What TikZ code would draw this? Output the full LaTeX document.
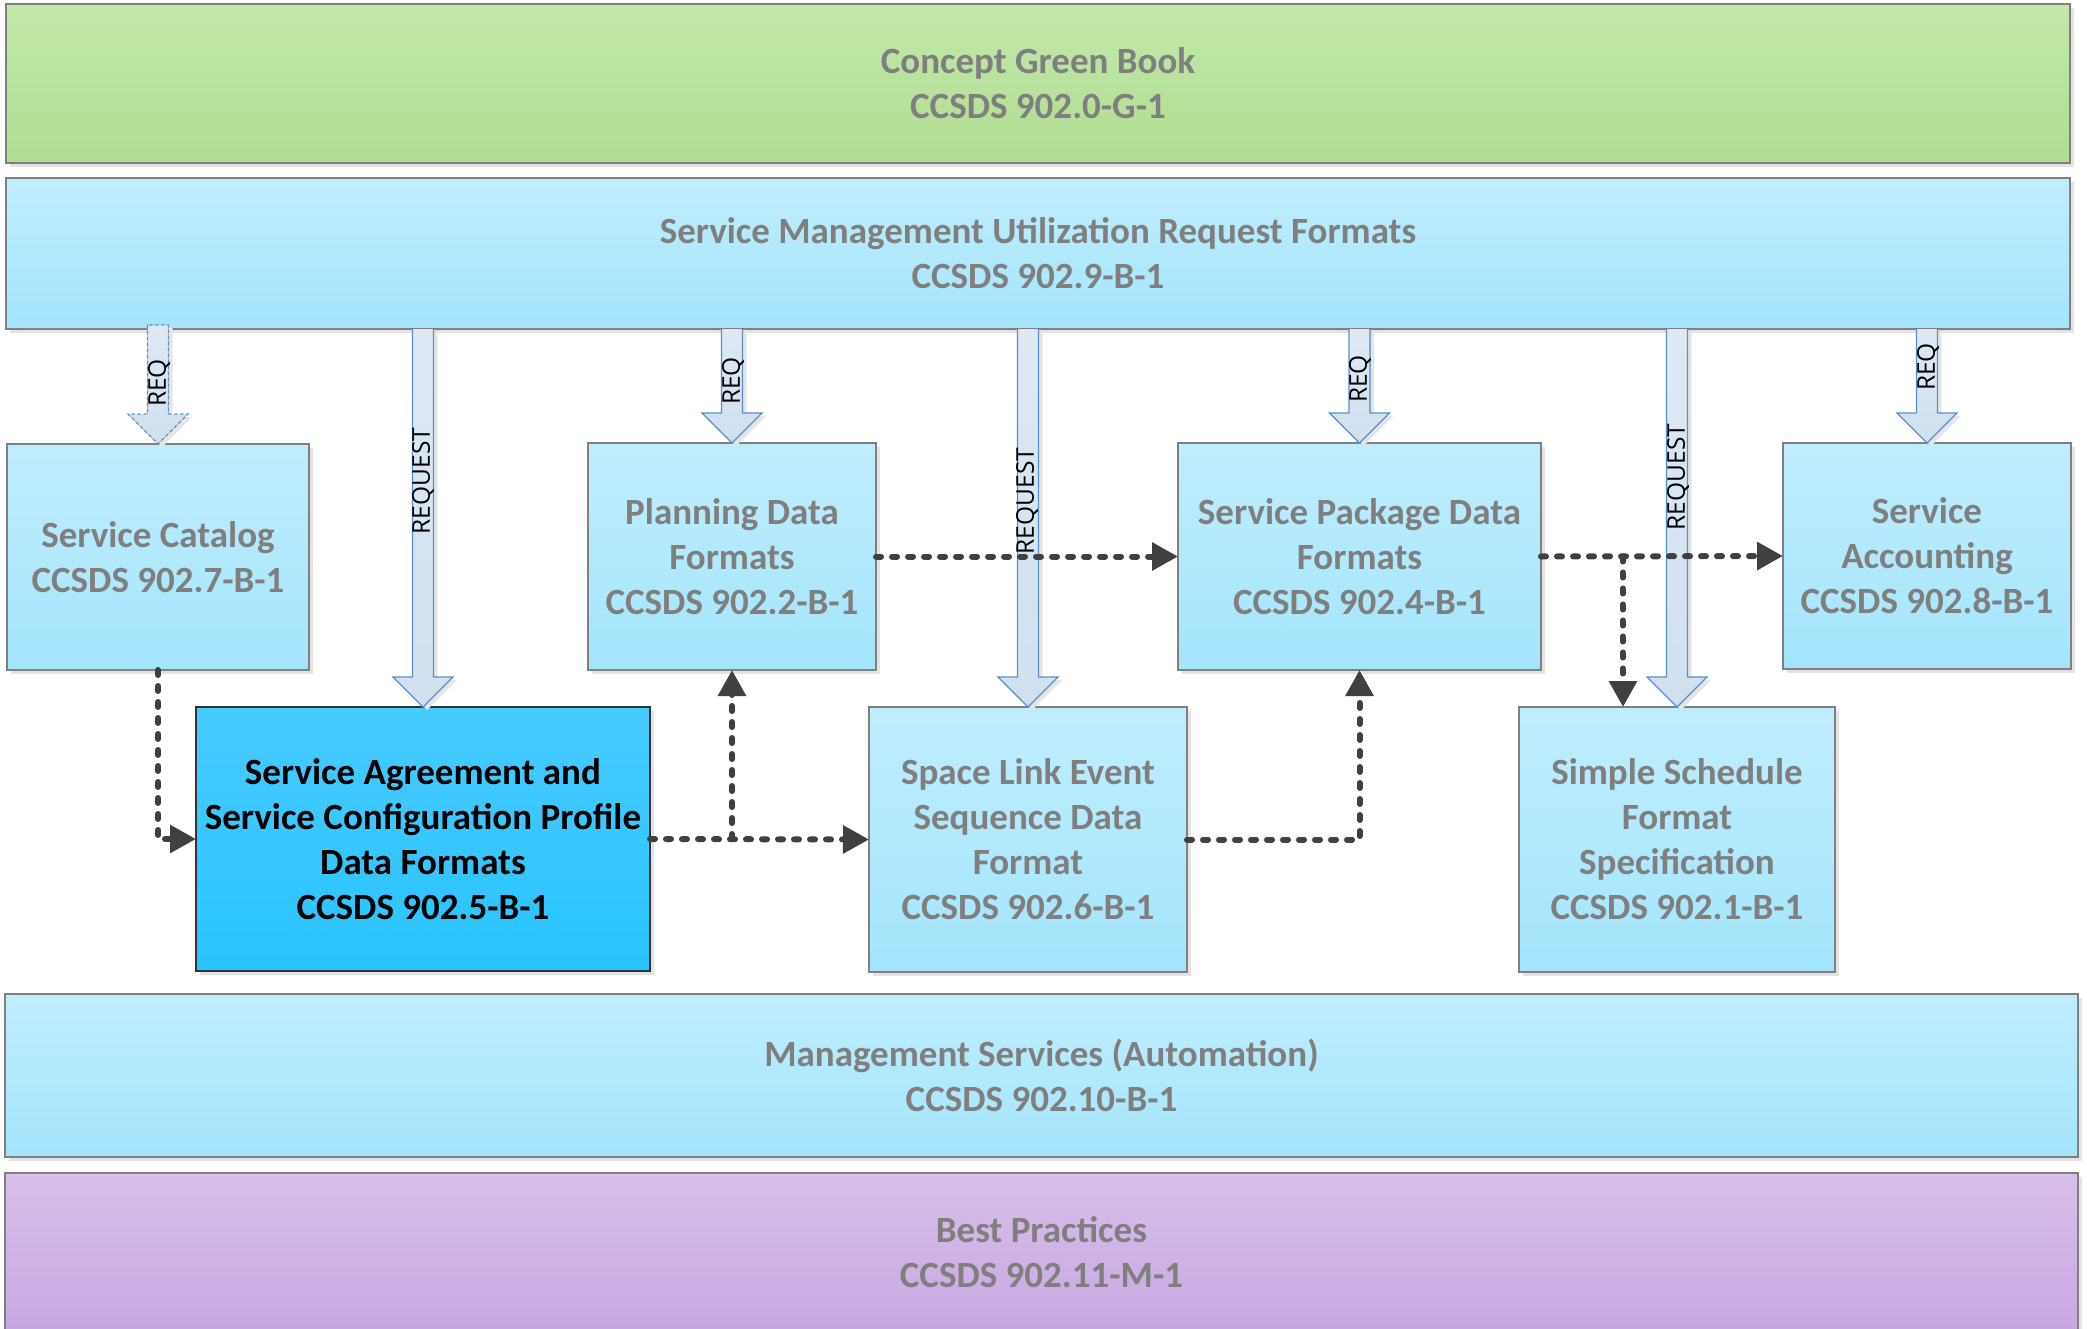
\documentclass[tikz,border=0pt]{standalone}
\usepackage{fontspec}
\setmainfont{Carlito}
\newfontfamily\labfont{Open Sans}
\usetikzlibrary{arrows.meta,shadows,calc}
\definecolor{txtgray}{RGB}{127,127,127}
\definecolor{blueT}{RGB}{192,237,254}
\definecolor{blueB}{RGB}{164,229,252}
\definecolor{greenT}{RGB}{194,232,171}
\definecolor{greenB}{RGB}{177,221,145}
\definecolor{purpT}{RGB}{217,191,235}
\definecolor{purpB}{RGB}{200,167,226}
\definecolor{saT}{RGB}{72,203,255}
\definecolor{saB}{RGB}{41,195,254}
\definecolor{arrT}{RGB}{222,233,244}
\definecolor{arrB}{RGB}{208,224,239}
\definecolor{arrLine}{RGB}{91,143,201}
\definecolor{dotc}{RGB}{64,64,64}
\definecolor{bordergray}{RGB}{128,128,128}
\newcommand\fatarrow[3][]{%
  \filldraw[fatstyle,#1] let \p1=(#2), \p2=(#3) in
    (\x2-10.5pt,\y1) -- (\x2-10.5pt,\y2+30pt) -- (\x2-30pt,\y2+30pt) -- (\x2,\y2)
    -- (\x2+30pt,\y2+30pt) -- (\x2+10.5pt,\y2+30pt) -- (\x2+10.5pt,\y1);
}
\begin{document}
\begin{tikzpicture}[x=1pt,y=-1pt,
  box/.style={rectangle, draw=bordergray, line width=1.5pt, inner sep=0pt, outer sep=0pt,
    align=center, text=txtgray, font=\bfseries\fontsize{37pt}{45pt}\selectfont,
    general shadow={fill=black!11, shadow xshift=4pt, shadow yshift=-4pt}},
  bluebox/.style={box, top color=blueT, bottom color=blueB},
  greenbox/.style={box, top color=greenT, bottom color=greenB},
  purpbox/.style={box, top color=purpT, bottom color=purpB},
  sabox/.style={box, top color=saT, bottom color=saB, draw=black!80, text=black},
  fatstyle/.style={draw=arrLine, line width=1.2pt, top color=arrT, bottom color=arrB,
    general shadow={fill=black!10, shadow xshift=4pt, shadow yshift=-3pt}},
  lab/.style={font=\labfont\fontsize{24.5pt}{28pt}\selectfont, inner sep=0pt, rotate=90, text=black},
  flow/.style={draw=dotc, line width=6pt, dash pattern=on 5pt off 11pt, line cap=round,
    -{Triangle[length=26pt,width=27pt]}}
]
\fill[white] (0,0) rectangle (2087,1329);
\useasboundingbox (0,0) rectangle (2087,1329);

% layers
\node[greenbox, minimum width=2064pt, minimum height=159pt] (green) at (1038,83.5)
  {Concept Green Book\\CCSDS 902.0-G-1};
\node[bluebox, minimum width=2064pt, minimum height=151pt] (smurf) at (1038,253.5)
  {Service Management Utilization Request Formats\\CCSDS 902.9-B-1};
\node[bluebox, minimum width=2073pt, minimum height=163pt] (mgmt) at (1041.5,1075.5)
  {Management Services (Automation)\\CCSDS 902.10-B-1};
\node[purpbox, minimum width=2073pt, minimum height=158pt] (best) at (1041.5,1252)
  {Best Practices\\CCSDS 902.11-M-1};

% standards
\node[bluebox, minimum width=302pt, minimum height=226pt] (catalog) at (158,557)
  {Service Catalog\\CCSDS 902.7-B-1};
\node[bluebox, minimum width=288pt, minimum height=227pt] (planning) at (732,556.5)
  {Planning Data\\Formats\\CCSDS 902.2-B-1};
\node[bluebox, minimum width=363pt, minimum height=227pt] (package) at (1359.5,556.5)
  {Service Package Data\\Formats\\CCSDS 902.4-B-1};
\node[bluebox, minimum width=288pt, minimum height=226pt] (accounting) at (1927,556)
  {Service\\Accounting\\CCSDS 902.8-B-1};
\node[sabox, minimum width=454pt, minimum height=264pt] (sa) at (423,839)
  {Service Agreement and\\Service Configuration Profile\\Data Formats\\CCSDS 902.5-B-1};
\node[bluebox, minimum width=318pt, minimum height=265pt] (spacelink) at (1028,839.5)
  {Space Link Event\\Sequence Data\\Format\\CCSDS 902.6-B-1};
\node[bluebox, minimum width=316pt, minimum height=265pt] (schedule) at (1677,839.5)
  {Simple Schedule\\Format\\Specification\\CCSDS 902.1-B-1};

% fat request arrows
\filldraw[fatstyle, dashed] let \p1=([yshift=4pt]smurf.south -| catalog.north), \p2=(catalog.north) in
    (\x2-10.5pt,\y1) -- (\x2-10.5pt,\y2+30pt) -- (\x2-30pt,\y2+30pt) -- (\x2,\y2)
    -- (\x2+30pt,\y2+30pt) -- (\x2+10.5pt,\y2+30pt) -- (\x2+10.5pt,\y1) -- cycle;
\fatarrow{smurf.south -| sa.north}{sa.north}
\fatarrow{smurf.south -| planning.north}{planning.north}
\fatarrow{smurf.south -| spacelink.north}{spacelink.north}
\fatarrow{smurf.south -| package.north}{package.north}
\fatarrow{smurf.south -| schedule.north}{schedule.north}
\fatarrow{smurf.south -| accounting.north}{accounting.north}

\node[lab] (l1) at (159,383) {REQ};
\node[lab] (l2) at (423,481) {REQUEST};
\node[lab] (l3) at (733,381) {REQ};
\node[lab] (l4) at (1027,501) {REQUEST};
\node[lab] (l5) at (1360,379) {REQ};
\node[lab] (l6) at (1678,477) {REQUEST};
\node[lab] (l7) at (1928,367) {REQ};

% dotted dependency connectors
\coordinate (br) at ([xshift=-54pt]schedule.north);
\draw[flow] (catalog.south) |- (sa.west);
\draw[flow] (sa.east) -- (spacelink.west);
\draw[flow] (planning.south |- sa.east) -- (planning.south);
\draw[flow] (planning.east) -- (package.west);
\draw[flow] (spacelink.east) -| (package.south);
\draw[flow] (package.east) -- (accounting.west);
\draw[flow] (br |- package.east) -- (br);
\end{tikzpicture}
\end{document}
